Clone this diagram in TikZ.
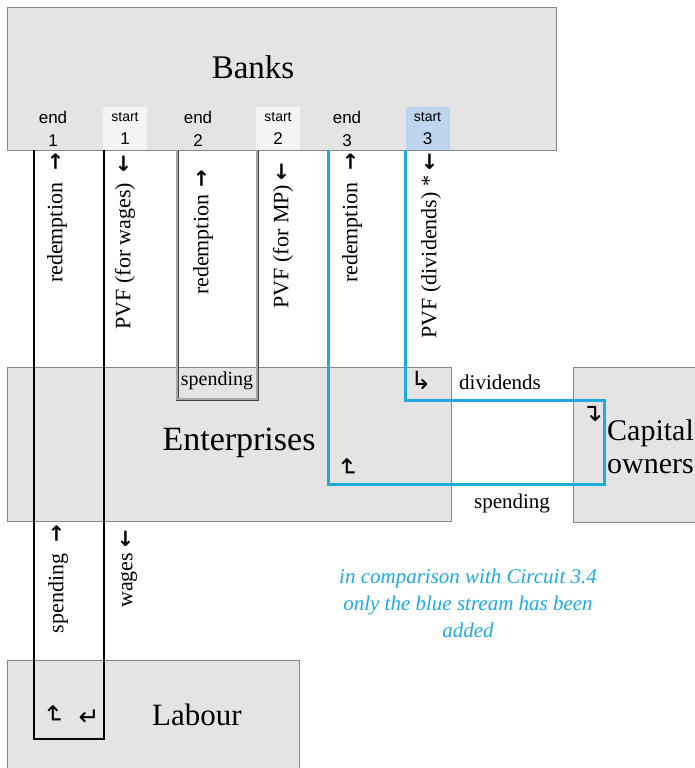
\documentclass[tikz,border=0pt]{standalone}
\usepackage{fontspec}
\setmainfont{Liberation Serif}[ItalicFont={Liberation Serif Italic}]
\newfontfamily\tagfont{Liberation Sans}
\newfontfamily\arrowfont{DejaVu Sans}
\newfontfamily\notefont{Liberation Serif Italic}
\usetikzlibrary{positioning}

\definecolor{boxgray}{HTML}{E4E4E4}
\definecolor{edgegray}{HTML}{878787}
\definecolor{streamblue}{HTML}{1EA9E1}
\definecolor{startblue}{HTML}{BDD6EE}
\definecolor{startwhite}{HTML}{F4F4F4}

\newcommand{\uparr}{{\arrowfont\bfseries\fontsize{21}{22}\selectfont →}}
\newcommand{\downarr}{{\arrowfont\bfseries\fontsize{21}{22}\selectfont ←}}

\tikzset{
  sector/.style={draw=edgegray, fill=boxgray, line width=1.2pt, anchor=north west, inner sep=0pt},
  big/.style={font=\fontsize{33}{38}\selectfont, inner sep=0pt},
  tag/.style={font=\tagfont\fontsize{17}{23}\selectfont, align=center, inner sep=0pt},
  starttag/.style={tag, minimum width=44, minimum height=43},
  flow/.style={font=\fontsize{22}{24}\selectfont, rotate=90, anchor=east, inner sep=0pt},
  lbl/.style={font=\fontsize{21}{24}\selectfont, inner sep=0pt},
  hook/.style={font=\arrowfont\fontsize{25}{26}\selectfont, inner sep=0pt},
  wagesloop/.style={line width=2.6pt, draw=black},
  mploop/.style={draw=black!75, line width=0.9pt, double=black!35, double distance=1.2pt},
  divloop/.style={line width=3pt, draw=streamblue},
}

\begin{document}
\begin{tikzpicture}[x=1pt,y=-1pt]
\useasboundingbox (0,0) rectangle (695,768);
\clip (0,0) rectangle (695,768);

% sectors
\node[sector, minimum width=549, minimum height=143] (banks) at (7,7) {};
\node[sector, minimum width=444, minimum height=154] (ent) at (7,367) {};
\node[sector, minimum width=140, minimum height=155] (cap) at (573,367) {};
\node[sector, minimum width=292, minimum height=130] (lab) at (7,660) {};

\node[big] (bankname) at (253,67) {Banks};
\node[big, font=\fontsize{34}{38}\selectfont] (entname) at (239,443) {Enterprises};
\node[big, anchor=base west, align=left, font=\fontsize{30}{33}\selectfont] (capname) at (607,473) {Capital\\owners};
\node[big, font=\fontsize{31}{34}\selectfont] (labname) at (197,715) {Labour};

% ends and starts of the loans
\node[tag] (endone) at (53,129) {end\\1};
\node[starttag, fill=startwhite] (startone) at (125,128.5) {{\fontsize{14}{16}\selectfont start}\\1};
\node[tag] (endtwo) at (198,129) {end\\2};
\node[starttag, fill=startwhite] (starttwo) at (278,128.5) {{\fontsize{14}{16}\selectfont start}\\2};
\node[tag] (endthree) at (347,129) {end\\3};
\node[starttag, fill=startblue] (startthree) at (427.5,128.5) {{\fontsize{14}{16}\selectfont start}\\3};

% loop corners
\coordinate (w1) at (34,150);
\coordinate (w2) at (34,739);
\coordinate (w3) at (104,739);
\coordinate (w4) at (104,150);
\coordinate (m1) at (177,150);
\coordinate (m2) at (177,399);
\coordinate (m3) at (257,399);
\coordinate (m4) at (257,150);
\coordinate (d1) at (328,150);
\coordinate (d2) at (328,484);
\coordinate (d3) at (604,484);
\coordinate (d4) at (604,400);
\coordinate (d5) at (405,400);
\coordinate (d6) at (405,150);

\draw[wagesloop] (w1) -- (w2) -- (w3) -- (w4);
\draw[mploop] (m1) -- (m2) -- (m3) -- (m4);
\draw[divloop] (d1) -- (d2) -- (d3) -- (d4) -- (d5) -- (d6);

% flows
\node[flow] (redone) at (57,153) {redemption\hspace{12pt}\uparr};
\node[flow] (pvfone) at (125,155) {PVF (for wages)\hspace{10pt}\downarr};
\node[flow] (redtwo) at (203,170) {redemption\hspace{7pt}\uparr};
\node[flow] (pvftwo) at (283,163) {PVF (for MP)\hspace{4pt}\downarr};
\node[flow] (redthree) at (352,153) {redemption\hspace{12pt}\uparr};
\node[flow] (pvfthree) at (431,153) {PVF (dividends) *\hspace{5pt}\downarr};
\node[flow] (spendone) at (58,525) {spending\hspace{11pt}\uparr};
\node[flow] (wagesflow) at (129,530) {wages\hspace{5pt}\downarr};

\node[lbl, font=\fontsize{20}{22}\selectfont] (spendtwo) at (217,381) {spending};
\node[lbl] (divs) at (500,382) {dividends};
\node[lbl] (spendthree) at (512,503) {spending};

% turning marks
\node[hook] (hookdiv) at (421,381) {↳};
\node[hook] (hookcap) at (592,414) {↴};
\node[hook, rotate=-90] (hookent) at (347,468) {↵};
\node[hook, rotate=-90] (hooklabin) at (53,715) {↵};
\node[hook] (hooklabout) at (89,718) {↵};

\node[font=\notefont\fontsize{21}{27}\selectfont, text=streamblue, align=center, inner sep=0pt] (remark) at (468,603)
  {in comparison with Circuit 3.4\\only the blue stream has been\\added};
\end{tikzpicture}
\end{document}
